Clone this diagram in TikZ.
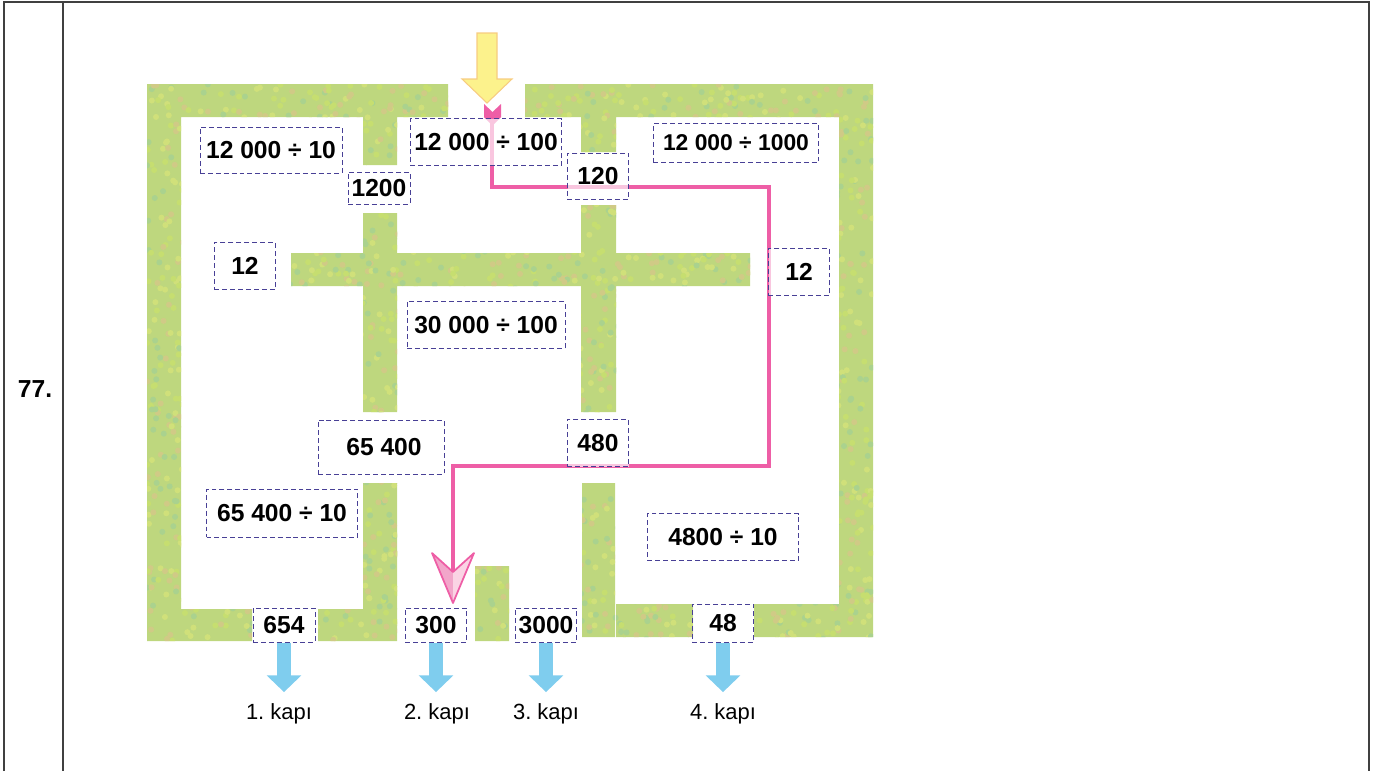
\documentclass[tikz,border=0pt]{standalone}
\usepackage{fontspec}
\setmainfont{Liberation Sans}
\usetikzlibrary{arrows.meta}
\frenchspacing

\definecolor{hedge}{RGB}{190,215,126}
\definecolor{hedgeA}{RGB}{208,224,122}
\definecolor{hedgeB}{RGB}{170,210,142}
\definecolor{hedgeC}{RGB}{208,202,134}
\definecolor{hedgeD}{RGB}{198,222,112}
\definecolor{boxline}{RGB}{72,64,150}
\definecolor{routepink}{RGB}{238,94,166}
\definecolor{headdark}{RGB}{242,166,202}
\definecolor{headlight}{RGB}{250,212,228}
\definecolor{exitblue}{RGB}{127,205,238}
\definecolor{inyellow}{RGB}{252,242,140}
\definecolor{inorange}{RGB}{247,204,128}

%% wall pieces of the maze: x1/y1/x2/y2 in pixels
\def\hedgelist{147/84/448/117, 525/84/873/117, 147/117/181/609, 839/117/873/604,
  147/609/252/641, 318/609/397/641, 363/117/397/165, 363/213/397/412,
  291/253/750/286, 581/117/616/152, 581/205/616/412, 363/483/397/609,
  582/483/615/637, 475/566/509/641, 616/604/693/637, 754/604/873/637}

\begin{document}
\begin{tikzpicture}[x=0.2mm, y=-0.2mm, >=Latex,
  frame/.style={draw=black!75, line width=0.75pt},
  numbox/.style={draw=boxline, line width=0.55pt, dash pattern=on 2.8pt off 1.7pt,
    fill=white, fill opacity=0.65, text opacity=1, inner sep=0pt,
    font=\fontsize{14}{16}\selectfont\bfseries},
  door/.style={font=\fontsize{12.5}{14}\selectfont, anchor=north, inner sep=0pt},
  exit/.style={exitblue, line width=8.2pt, shorten >=6.2pt,
    -{Triangle[length=9.6pt, width=19.3pt]}},
  route/.style={routepink, line width=2.3pt, line join=miter}]

\useasboundingbox (0,0) rectangle (1376,771);

%% ===================== table frame =====================
\draw[frame] (4,771) -- (4,2) -- (1369,2) -- (1369,771);
\draw[frame] (63,2) -- (63,771);
\node[font=\fontsize{14}{16}\selectfont\bfseries] (num) at (35,389) {77.};

%% ===================== hedges =====================
\begin{scope}
  \clip \foreach \a/\b/\c/\d in \hedgelist {(\a,\b) rectangle (\c,\d)};
  \fill[hedge] (140,80) rectangle (880,645);
  \pgfmathsetseed{17}
  \foreach \i in {1,...,3500}{
    \pgfmathsetmacro{\dx}{147+726*rnd}
    \pgfmathsetmacro{\dy}{84+557*rnd}
    \pgfmathtruncatemacro{\k}{int(4*rnd)}
    \ifcase\k \def\dc{hedgeA}\or \def\dc{hedgeB}\or \def\dc{hedgeC}\else \def\dc{hedgeD}\fi
    \fill[\dc] (\dx,\dy) circle (0.6mm);
  }
\end{scope}

%% ===================== way in =====================
\draw[draw=inorange, fill=inyellow, line width=0.6pt]
  (477,33) -- (497,33) -- (497,79) -- (512,79) -- (487,103) -- (462,79) -- (477,79) -- cycle;

%% ===================== the route (under the boxes) =====================
\coordinate (start) at (492,112);
\coordinate (turn1) at (769,187);
\coordinate (turn2) at (453,466);
\coordinate (goal)  at (453,572);
\fill[routepink] (484,104) -- (492.5,112) -- (501,104) -- (501,117) -- (494,124)
  -- (491,124) -- (484,117) -- cycle;
\draw[route] (start) |- (turn1) |- (turn2) -- (goal);
\fill[headdark] (453,603) -- (432,553) -- (453,572) -- cycle;
\fill[headlight] (453,603) -- (474,553) -- (453,572) -- cycle;
\draw[routepink, line width=1pt, line join=round] (453,603) -- (432,553) -- (453,572) -- (474,553) -- cycle;

%% ===================== boxes =====================
\node[numbox, minimum width=28.4mm, minimum height=9.2mm] (q1) at (271,150) {12 000 ÷ 10};
\node[numbox, minimum width=30.2mm, minimum height=9.4mm] (q2) at (486,142) {12 000 ÷ 100};
\node[numbox, minimum width=33mm, minimum height=7.8mm,
  font=\fontsize{13}{15}\selectfont\bfseries] (q3) at (736,143) {12 000 ÷ 1000};
\node[numbox, minimum width=12.4mm, minimum height=6.4mm] (b1200) at (379,188) {1200};
\node[numbox, minimum width=12.2mm, minimum height=9.2mm] (b120) at (598,176) {120};
\node[numbox, minimum width=12.2mm, minimum height=9.4mm] (b12a) at (245,266) {12};
\node[numbox, minimum width=12.2mm, minimum height=9.4mm] (b12b) at (799,272) {12};
\node[numbox, minimum width=31.6mm, minimum height=9.4mm] (q4) at (486,325) {30 000 ÷ 100};
\node[numbox, minimum width=25.2mm, minimum height=10.8mm] (b65400) at (381,447) {\hspace{1.2mm}65 400};
\node[numbox, minimum width=12.2mm, minimum height=9.4mm] (b480) at (598,443) {480};
\node[numbox, minimum width=30.2mm, minimum height=9.6mm] (q5) at (282,513) {65 400 ÷ 10};
\node[numbox, minimum width=30.2mm, minimum height=9.4mm] (q6) at (723,537) {4800 ÷ 10};

\node[numbox, minimum width=12.4mm, minimum height=6.8mm] (b654) at (284,625) {654};
\node[numbox, minimum width=12.2mm, minimum height=6.8mm] (b300) at (436,625) {300};
\node[numbox, minimum width=12.2mm, minimum height=6.8mm] (b3000) at (546,625) {3000};
\node[numbox, minimum width=12.2mm, minimum height=7.6mm] (b48) at (723,623) {48};

%% ===================== doors =====================
\node[door] (k1) at (279,703) {1. kapı};
\node[door] (k2) at (437,703) {2. kapı};
\node[door] (k3) at (546,703) {3. kapı};
\node[door] (k4) at (723,703) {4. kapı};

\draw[exit] (b654.south)  -- (b654.south |- k1.north);
\draw[exit] (b300.south)  -- (b300.south |- k2.north);
\draw[exit] (b3000.south) -- (b3000.south |- k3.north);
\draw[exit] (b48.south)   -- (b48.south |- k4.north);

\end{tikzpicture}
\end{document}
